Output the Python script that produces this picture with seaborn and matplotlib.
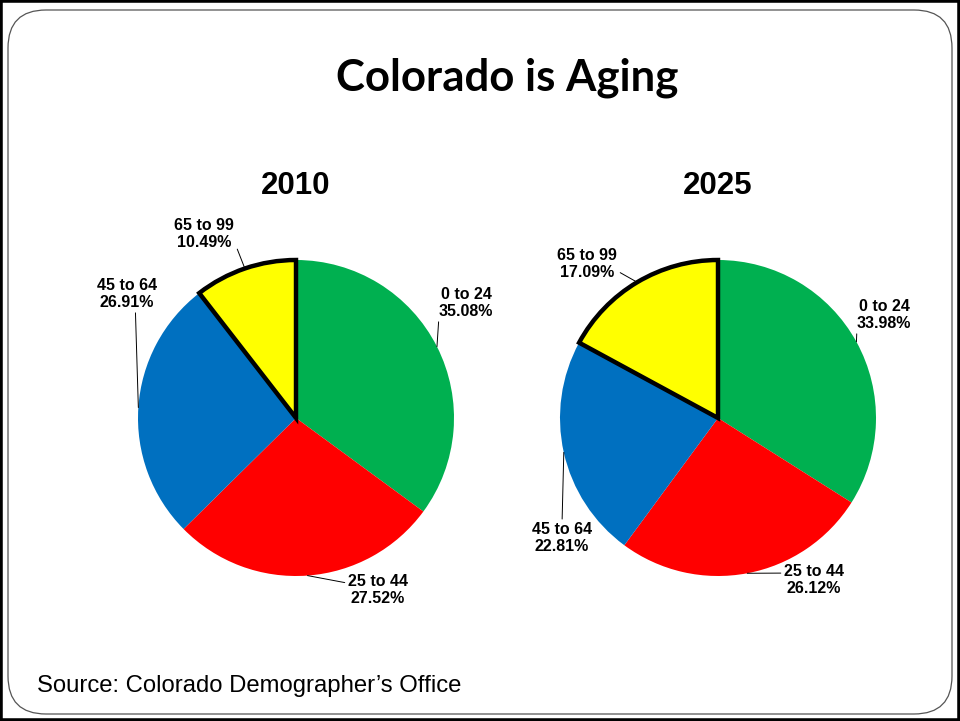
import numpy as np
import matplotlib
matplotlib.use("Agg")
import matplotlib.pyplot as plt
from matplotlib.patches import FancyBboxPatch, Rectangle
import seaborn as sns

# data
age_groups = ["0 to 24", "25 to 44", "45 to 64", "65 to 99"]
share_2010 = [35.08, 27.52, 26.91, 10.49]
share_2025 = [33.98, 26.12, 22.81, 17.09]
years = ["2010", "2025"]
colors = ["#00B050", "#FF0000", "#0070C0", "#FFFF00"]

# label placement (in pie radius units) and where the leader line meets the text box
label_pos = {
    "2010": [(1.076, 0.728), (0.519, -1.089), (-1.070, 0.785), (-0.582, 1.165)],
    "2025": [(1.051, 0.652), (0.608, -1.025), (-0.987, -0.759), (-0.829, 0.975)],
}
label_rel = {
    "2010": [(0.0, 0.0), (0.0, 0.72), (0.64, 0.0), (1.0, 0.28)],
    "2025": [(0.0, 0.0), (0.0, 0.72), (0.5, 1.0), (1.0, 0.28)],
}

sns.set_style("white")
plt.rcParams["font.family"] = ["Liberation Sans", "DejaVu Sans"]
plt.rcParams["text.color"] = "black"

W, H = 960, 721
fig = plt.figure(figsize=(W / 100, H / 100), dpi=100)

# background axes in pixel units for frame, title, source
bg = fig.add_axes([0, 0, 1, 1], zorder=-1)
bg.set_xlim(0, W)
bg.set_ylim(H, 0)
bg.axis("off")
bg.add_patch(Rectangle((0, 0), W, H, fill=False, ec="black", lw=4, clip_on=False))
bg.add_patch(FancyBboxPatch((8, 10), 944, 704, boxstyle="round,pad=0,rounding_size=38",
                            fill=False, ec="#555555", lw=0.9))
bg.text(507, 78, "Colorado is Aging", ha="center", va="center",
        fontsize=31.5, fontweight="bold", family=["Lato", "DejaVu Sans"])
bg.text(37, 686, "Source: Colorado Demographer\u2019s Office", ha="left", va="center",
        fontsize=17.2)

R = 158
centers = [(296, 418), (718, 418)]

for year, vals, (cx, cy) in zip(years, [share_2010, share_2025], centers):
    ax = fig.add_axes([(cx - R) / W, (H - cy - R) / H, 2 * R / W, 2 * R / H])
    wedges, _ = ax.pie(vals, colors=colors, startangle=90, counterclock=False,
                       radius=1, wedgeprops=dict(linewidth=0))
    ax.set_xlim(-1, 1)
    ax.set_ylim(-1, 1)
    ax.set_aspect("equal")
    ax.axis("off")

    # oldest group highlighted with a thick outline
    wedges[-1].set_edgecolor("black")
    wedges[-1].set_linewidth(3.2)
    wedges[-1].set_joinstyle("miter")
    wedges[-1].set_zorder(5)

    ax.text(0, 1.47, year, ha="center", va="center", fontsize=22.5, fontweight="bold")

    for i, w in enumerate(wedges):
        mid = np.deg2rad((w.theta1 + w.theta2) / 2)
        xy = (np.cos(mid), np.sin(mid))
        ax.annotate(f"{age_groups[i]}\n{vals[i]:.2f}%", xy=xy,
                    xytext=label_pos[year][i], textcoords="data",
                    ha="center", va="center", fontsize=11.5, fontweight="bold",
                    linespacing=1.1, annotation_clip=False,
                    arrowprops=dict(arrowstyle="-", color="black", lw=0.7,
                                    shrinkA=0, shrinkB=0,
                                    relpos=label_rel[year][i]))

fig.savefig("out.png", dpi=100)
plt.close(fig)
